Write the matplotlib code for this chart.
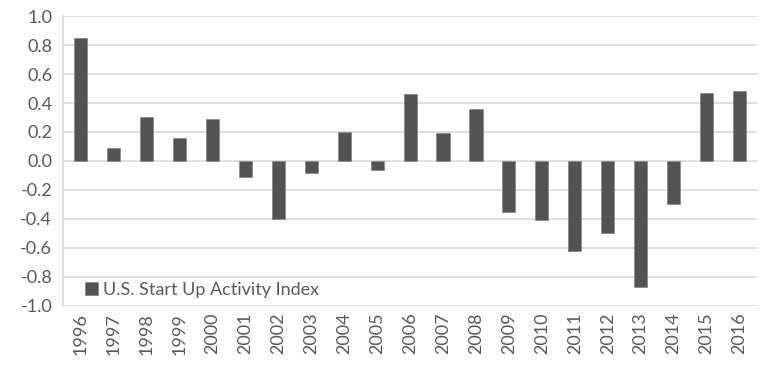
import numpy as np
import matplotlib
matplotlib.use("Agg")
import matplotlib.pyplot as plt

# Data
years = [str(y) for y in range(1996, 2017)]
index_values = [0.85, 0.09, 0.30, 0.16, 0.29, -0.11, -0.40, -0.08, 0.20, -0.06,
                0.46, 0.19, 0.36, -0.35, -0.41, -0.62, -0.50, -0.87, -0.30, 0.47, 0.48]
series_name = "U.S. Start Up Activity Index"
y_ticks = [-1.0, -0.8, -0.6, -0.4, -0.2, 0.0, 0.2, 0.4, 0.6, 0.8, 1.0]

plt.rcParams['font.family'] = ['Lato', 'DejaVu Sans']
text_color = "#595959"
grid_color = "#d9d9d9"
bar_color = "#535353"

fig = plt.figure(figsize=(7.63, 3.65), dpi=100)
ax = fig.add_axes([0.083, 0.162, 0.909, 0.794])

x = np.arange(len(years))
ax.bar(x, index_values, width=0.4, color=bar_color, edgecolor="#8a8a8a",
       linewidth=0.6, label=series_name, zorder=3)

ax.set_xlim(-0.53, len(years) - 0.47)
ax.set_ylim(-1.0, 1.0)
ax.set_yticks(y_ticks)
ax.set_yticklabels([f"{v:.1f}" for v in y_ticks])
ax.set_xticks(x)
ax.set_xticklabels(years, rotation=90)

ax.grid(True, axis="y", color=grid_color, linewidth=1.2, zorder=0)
ax.tick_params(axis="both", length=0, labelsize=13, colors=text_color)
ax.tick_params(axis="x", pad=5)
ax.tick_params(axis="y", pad=8)
for side in ["top", "right", "bottom"]:
    ax.spines[side].set_visible(False)
ax.spines["left"].set_color(grid_color)
ax.spines["left"].set_linewidth(1.2)

leg = ax.legend(loc="lower left", frameon=False, fontsize=13,
                handlelength=0.7, handleheight=0.7, handletextpad=0.3,
                borderaxespad=0.05, bbox_to_anchor=(0.02, 0.0))
for t in leg.get_texts():
    t.set_color(text_color)

fig.savefig("out.png", dpi=100)
